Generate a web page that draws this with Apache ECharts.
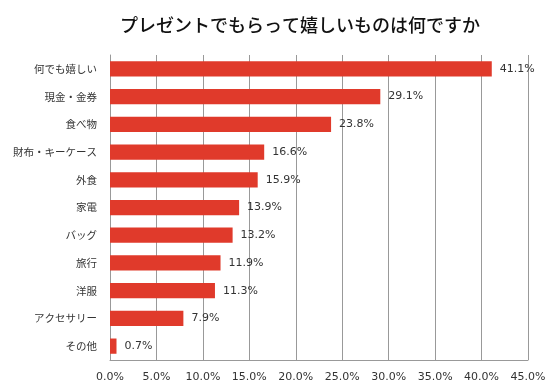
<!DOCTYPE html>
<html><head><meta charset="utf-8">
<script src="https://cdn.jsdelivr.net/npm/echarts@6/dist/echarts.min.js"></script>
<style>html,body{margin:0;padding:0;background:#fff}#c{width:559px;height:392px}</style>
</head><body><div id="c"></div>
<script>
const categories = ["何でも嬉しい","現金・金券","食べ物","財布・キーケース","外食","家電","バッグ","旅行","洋服","アクセサリー","その他"];
const values = [41.1,29.1,23.8,16.6,15.9,13.9,13.2,11.9,11.3,7.9,0.7];
const titleText = "プレゼントでもらって嬉しいものは何ですか";
const chart = echarts.init(document.getElementById('c'));
chart.setOption({
  animation:false,
  backgroundColor:'#fff',
  title:{text:titleText,left:295,top:11,textAlign:'center',textStyle:{fontFamily:'Noto Sans CJK JP',fontSize:18,fontWeight:500,color:'#111'}},
  grid:{left:110,right:31,top:55,bottom:32,containLabel:false},
  xAxis:{type:'value',min:0,max:45,interval:5,
    axisLabel:{formatter:v=>v.toFixed(1)+'%',fontFamily:'DejaVu Sans',fontSize:11,color:'#333',margin:12},
    axisLine:{show:true,lineStyle:{color:'#999'}},axisTick:{show:false},
    splitLine:{show:true,lineStyle:{color:'#999'}}},
  yAxis:{type:'category',data:categories,inverse:true,
    axisLabel:{fontFamily:'Noto Sans CJK JP',fontSize:10.5,color:'#333',margin:13},
    axisLine:{show:true,lineStyle:{color:'#999'}},axisTick:{show:false}},
  series:[{type:'bar',data:values,barCategoryGap:'45%',
    itemStyle:{color:'#e03a2b'},
    label:{show:true,position:'right',distance:8,formatter:p=>p.value.toFixed(1)+'%',fontFamily:'DejaVu Sans',fontSize:11,color:'#333'}}]
});
</script></body></html>
